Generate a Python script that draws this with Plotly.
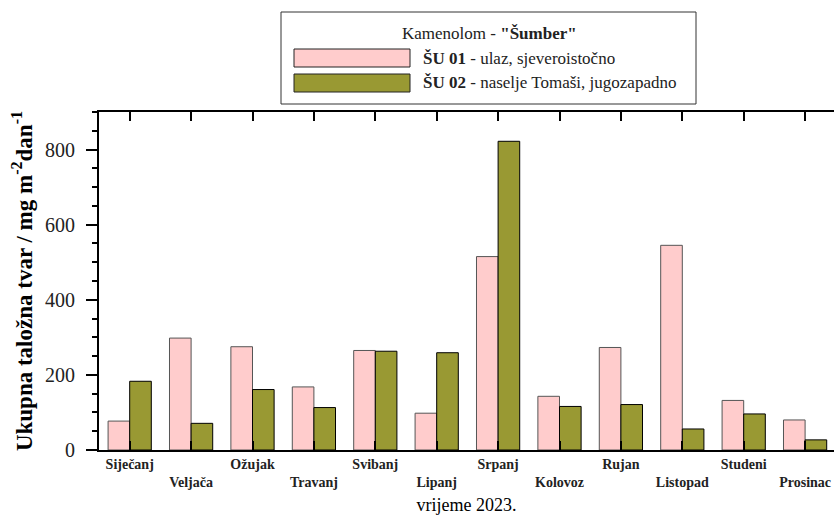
import plotly.graph_objects as go

months = ["Siječanj", "Veljača", "Ožujak", "Travanj", "Svibanj", "Lipanj",
          "Srpanj", "Kolovoz", "Rujan", "Listopad", "Studeni", "Prosinac"]
su01 = [77, 298, 275, 168, 265, 98, 515, 143, 273, 545, 132, 80]
su02 = [183, 71, 161, 113, 263, 259, 822, 116, 121, 56, 96, 27]
series_names = ["ŠU 01", "ŠU 02"]
series_desc = [" - ulaz, sjeveroistočno", " - naselje Tomaši, jugozapadno"]
legend_title = 'Kamenolom - <b>"Šumber"</b>'
y_ticks = [0, 200, 400, 600, 800]

PINK = "#FFCCCC"
OLIVE = "#999933"
FONT = "Liberation Serif"

W, H = 834, 516
ML, MR, MT, MB = 99, 0, 112, 66
PW, PH = W - ML - MR, H - MT - MB

def px2paper_x(px):
    return (px - ML) / PW

def px2paper_y(py):
    return (H - MB - py) / PH

idx = list(range(len(months)))
ticktext = [m if i % 2 == 0 else "<br>" + m for i, m in enumerate(months)]

fig = go.Figure()
fig.add_trace(go.Bar(x=idx, y=su01, name=series_names[0], marker=dict(color=PINK, line=dict(color="#555555", width=1)), showlegend=False))
fig.add_trace(go.Bar(x=idx, y=su02, name=series_names[1], marker=dict(color=OLIVE, line=dict(color="#000000", width=1)), showlegend=False))

xr = [-0.5, -0.5 + (W - ML - MR) / 61.4]

fig.update_layout(
    width=W, height=H,
    margin=dict(l=ML, r=MR, t=MT, b=MB, pad=0),
    paper_bgcolor="white", plot_bgcolor="white",
    barmode="group", bargap=0.296, bargroupgap=0,
    font=dict(family=FONT, color="black"),
    xaxis=dict(
        range=xr, tickmode="array", tickvals=idx, ticktext=ticktext,
        ticks="inside", ticklen=9, tickwidth=2, tickcolor="black",
        showline=True, linewidth=2, linecolor="black", mirror="ticks",
        showgrid=False, zeroline=False,
        tickfont=dict(family=FONT, size=14, color="#222222", weight="bold"),
        title=dict(text="vrijeme 2023.", font=dict(family=FONT, size=18), standoff=9),
    ),
    xaxis2=dict(
        overlaying="x", anchor="y", side="bottom", range=xr,
        tickmode="array", tickvals=[i for i in idx if i % 2 == 1],
        ticks="outside", ticklen=18, tickwidth=2, tickcolor="black",
        showticklabels=False, showline=False, showgrid=False, zeroline=False,
    ),
    yaxis=dict(
        range=[0, 900], tickmode="array", tickvals=y_ticks,
        ticks="outside", ticklen=11, tickwidth=2, tickcolor="black",
        minor=dict(dtick=50, ticks="outside", ticklen=5, tickwidth=2, tickcolor="black", showgrid=False),
        showline=True, linewidth=2, linecolor="black",
        showgrid=False, zeroline=False, ticklabelstandoff=7,
        tickfont=dict(family=FONT, size=20, color="#222222"),
        title=dict(text="Ukupna taložna tvar / mg m<sup>-2</sup>dan<sup>-1</sup>",
                   font=dict(family=FONT, size=23, weight="bold"), standoff=6),
    ),
    yaxis2=dict(
        overlaying="y", anchor="x", side="right", range=[0, 900],
        tickmode="array", tickvals=y_ticks[1:],
        ticks="inside", ticklen=11, tickwidth=2, tickcolor="black",
        minor=dict(dtick=50, ticks="inside", ticklen=4, tickwidth=2, tickcolor="black", showgrid=False),
        showticklabels=False, showline=False, showgrid=False, zeroline=False,
    ),
)

# legend drawn as a boxed key above the plot
shapes = [dict(type="rect", xref="paper", yref="paper",
               x0=px2paper_x(281), x1=px2paper_x(696), y0=px2paper_y(104), y1=px2paper_y(12),
               line=dict(color="#333333", width=1), fillcolor="white", layer="above")]
annotations = [dict(text=legend_title, xref="paper", yref="paper",
                    x=px2paper_x(489), y=px2paper_y(33), xanchor="center", yanchor="middle",
                    showarrow=False, font=dict(family=FONT, size=17, color="#222222"))]
colors = [PINK, OLIVE]
row_y = [58, 83]
for name, desc, col, ry in zip(series_names, series_desc, colors, row_y):
    shapes.append(dict(type="rect", xref="paper", yref="paper",
                       x0=px2paper_x(294), x1=px2paper_x(410),
                       y0=px2paper_y(ry + 9), y1=px2paper_y(ry - 9),
                       line=dict(color="#222222", width=1), fillcolor=col, layer="above"))
    annotations.append(dict(text="<b>" + name + "</b>" + desc, xref="paper", yref="paper",
                            x=px2paper_x(421), y=px2paper_y(ry), xanchor="left", yanchor="middle",
                            showarrow=False, font=dict(family=FONT, size=17, color="#222222")))
fig.update_layout(shapes=shapes, annotations=annotations)

fig.write_html("out.html", config={"displayModeBar": False},
               post_script="document.body.style.margin='0px';document.body.style.overflow='hidden';")
